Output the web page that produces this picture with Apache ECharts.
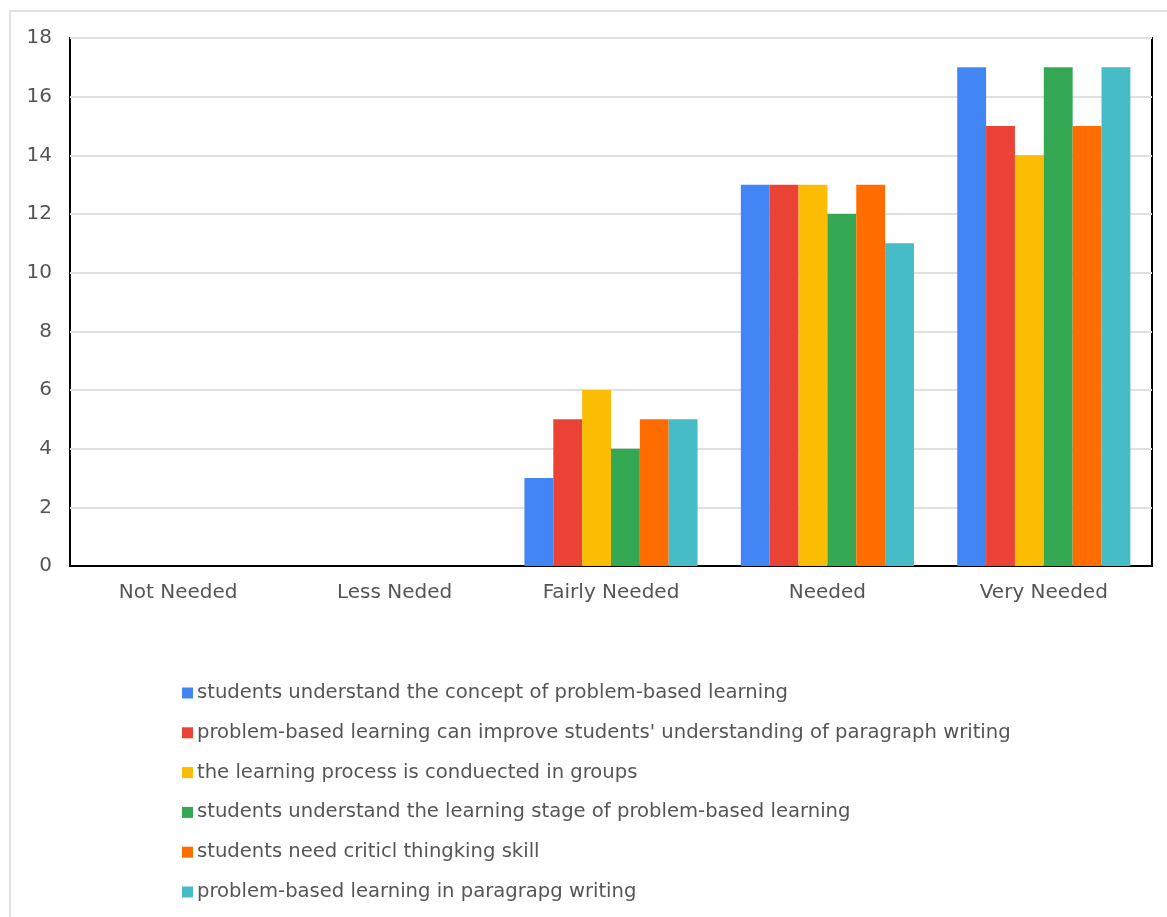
<!DOCTYPE html>
<html>
<head>
<meta charset="utf-8">
<script src="https://cdn.jsdelivr.net/npm/echarts@6/dist/echarts.min.js"></script>
<style>
  html, body { margin: 0; padding: 0; background: #fff; }
  #chart { width: 1167px; height: 917px; }
</style>
</head>
<body>
<div id="chart"></div>
<script>
// Response levels on the x axis
const categories = ['Not Needed', 'Less Neded', 'Fairly Needed', 'Needed', 'Very Needed'];

// Statement names (legend) and their counts per response level
const seriesNames = [
  'students understand the concept of problem-based learning',
  "problem-based learning can improve students' understanding of paragraph writing",
  'the learning process is conduected in groups',
  'students understand the learning stage of problem-based learning',
  'students need criticl thingking skill',
  'problem-based learning in paragrapg writing'
];
const conceptOfPBL       = [0, 0, 3, 13, 17];
const improveParagraph   = [0, 0, 5, 13, 15];
const groupProcess       = [0, 0, 6, 13, 14];
const learningStage      = [0, 0, 4, 12, 17];
const criticalThinking   = [0, 0, 5, 13, 15];
const paragraphWriting   = [0, 0, 5, 11, 17];

const seriesValues = [conceptOfPBL, improveParagraph, groupProcess, learningStage, criticalThinking, paragraphWriting];
const colors = ['#4285F4', '#EA4335', '#FBBC04', '#34A853', '#FF6D01', '#46BDC6'];

const chart = echarts.init(document.getElementById('chart'), null, { renderer: 'canvas' });

chart.setOption({
  animation: false,
  backgroundColor: '#fff',
  color: colors,
  textStyle: { fontFamily: 'DejaVu Sans, sans-serif' },
  graphic: [{
    type: 'rect',
    shape: { x: 10, y: 11, width: 1200, height: 950 },
    style: { fill: 'none', stroke: '#e0e0e0', lineWidth: 2 },
    silent: true
  }],
  grid: {
    left: 70, right: 15, top: 38, bottom: 351,
    show: true, borderColor: '#000', borderWidth: 2, backgroundColor: 'transparent'
  },
  legend: {
    orient: 'vertical',
    left: 177, top: 678,
    itemWidth: 11, itemHeight: 11, itemGap: 19.8,
    icon: 'rect',
    textStyle: { fontSize: 19.6, color: '#555', padding: [0, 0, 0, -1] },
    data: seriesNames
  },
  xAxis: {
    type: 'category',
    data: categories,
    axisLine: { show: true, lineStyle: { color: '#000', width: 2 } },
    axisTick: { show: false },
    axisLabel: { fontSize: 20, color: '#555', margin: 17 }
  },
  yAxis: {
    type: 'value',
    min: 0, max: 18, interval: 2,
    axisLine: { show: false },
    axisTick: { show: false },
    axisLabel: { fontSize: 20, color: '#555', margin: 18 },
    splitLine: { lineStyle: { color: '#e0e0e0', width: 2 } }
  },
  series: seriesNames.map((name, i) => ({
    name: name,
    type: 'bar',
    data: seriesValues[i],
    barGap: '0%',
    barCategoryGap: '20%',
    itemStyle: { color: colors[i] }
  }))
});
</script>
</body>
</html>
